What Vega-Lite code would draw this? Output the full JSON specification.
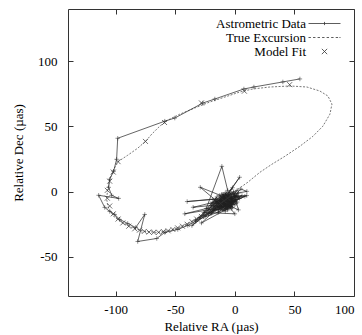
{
  "$schema": "https://vega.github.io/schema/vega-lite/v6.json",
  "autosize": {"type": "none"},
  "width": 286,
  "height": 287,
  "padding": {"left": 68, "top": 9, "right": 8, "bottom": 39},
  "background": "white",
  "datasets": {
    "excursion": [
      {"x": 0, "y": 0.2}, {"x": 10.9, "y": 7.2}, {"x": 21.0, "y": 14.8}, {"x": 31.1, "y": 21.0}, {"x": 42.0, "y": 27.1},
      {"x": 54.6, "y": 34.8}, {"x": 65.5, "y": 42.4}, {"x": 73.9, "y": 50.2}, {"x": 79.8, "y": 59.4}, {"x": 81.5, "y": 67.1},
      {"x": 78.1, "y": 73.3}, {"x": 71.4, "y": 77.1}, {"x": 60.5, "y": 80.2}, {"x": 46.2, "y": 81.0}, {"x": 29.4, "y": 80.2},
      {"x": 15.1, "y": 78.7}, {"x": 4.2, "y": 76.4}, {"x": -8.4, "y": 72.5}, {"x": -21.0, "y": 68.7}, {"x": -33.6, "y": 64.1},
      {"x": -46.2, "y": 59.4}, {"x": -56.3, "y": 54.8}, {"x": -63.0, "y": 50.2}, {"x": -69.7, "y": 44.1}, {"x": -74.8, "y": 38.7},
      {"x": -81.5, "y": 33.3}, {"x": -89.9, "y": 27.9}, {"x": -97.5, "y": 23.3}, {"x": -101.7, "y": 17.1}, {"x": -105.0, "y": 9.5},
      {"x": -106.7, "y": 1.8}, {"x": -107.6, "y": -5.9}, {"x": -105.9, "y": -12.8}, {"x": -101.7, "y": -19.0}, {"x": -95.0, "y": -23.6},
      {"x": -86.6, "y": -27.4}, {"x": -75.6, "y": -30.5}, {"x": -64.7, "y": -31.3}, {"x": -54.6, "y": -29.8}, {"x": -44.5, "y": -26.7},
      {"x": -34.5, "y": -22.1}, {"x": -24.4, "y": -16.4}, {"x": -15.1, "y": -11.3}, {"x": -6.7, "y": -5.2}, {"x": 0, "y": 0.2}
    ],
    "astro": [
      {"x": 54.6, "y": 86.4}, {"x": 40.3, "y": 84.1}, {"x": 16.0, "y": 80.2}, {"x": 7.6, "y": 78.7}, {"x": -16.8, "y": 71.0},
      {"x": -26.9, "y": 67.9}, {"x": -50.4, "y": 56.4}, {"x": -58.8, "y": 54.0}, {"x": -98.3, "y": 40.9}, {"x": -99.2, "y": 24.8},
      {"x": -101.7, "y": 15.6}, {"x": -105.0, "y": 9.5}, {"x": -105.9, "y": 3.3}, {"x": -103.4, "y": -2.8}, {"x": -97.5, "y": -5.2},
      {"x": -114.3, "y": -2.8}, {"x": -109.2, "y": -12.1}, {"x": -105.0, "y": -15.2}, {"x": -100.8, "y": -17.5}, {"x": -96.6, "y": -21.3},
      {"x": -89.9, "y": -24.4}, {"x": -83.2, "y": -27.5}, {"x": -75.6, "y": -17.5}, {"x": -81.5, "y": -38.2}, {"x": -65.5, "y": -35.9},
      {"x": -58.8, "y": -31.3}, {"x": -47.9, "y": -29.0}, {"x": -39.5, "y": -25.9}, {"x": -32.8, "y": -22.8}, {"x": -26.9, "y": -18.2},
      {"x": -22, "y": -14}, {"x": -15, "y": -4}, {"x": -30, "y": -20}, {"x": -12, "y": -12}, {"x": -5, "y": -2},
      {"x": -18, "y": -10}, {"x": -8, "y": -15}, {"x": -2, "y": -6}, {"x": -25, "y": -19}, {"x": -10, "y": -5},
      {"x": -40, "y": -7.6}, {"x": -18.5, "y": -6}, {"x": -6, "y": -11}, {"x": 3, "y": -1}, {"x": -14, "y": -16},
      {"x": -9, "y": -2}, {"x": -20, "y": -9}, {"x": -4, "y": -9}, {"x": 0, "y": -4}, {"x": -11, "y": -10},
      {"x": -16, "y": -6}, {"x": -7, "y": -7}, {"x": -3, "y": -13}, {"x": -13, "y": -3}, {"x": 2, "y": -8},
      {"x": -29, "y": 3.3}, {"x": -9, "y": -12}, {"x": -19, "y": -15}, {"x": -5, "y": -5}, {"x": -1, "y": 0},
      {"x": -12, "y": -7}, {"x": -8, "y": -10}, {"x": 4, "y": -5}, {"x": -15, "y": -12}, {"x": -6, "y": 1},
      {"x": -10.9, "y": 19.4}, {"x": -24, "y": -13}, {"x": -10, "y": -14}, {"x": -2, "y": -10}, {"x": -7, "y": -4},
      {"x": -17, "y": -8}, {"x": 1, "y": -3}, {"x": -11, "y": -6}, {"x": -4, "y": -12}, {"x": -28, "y": -24},
      {"x": -9, "y": -8}, {"x": -3, "y": -1}, {"x": -14, "y": -9}, {"x": -6, "y": -9}, {"x": 5, "y": 2},
      {"x": 10.1, "y": 0.2}, {"x": -8, "y": -3}, {"x": -20, "y": -17}, {"x": -1, "y": -7}, {"x": -12, "y": -13},
      {"x": -5, "y": -8}, {"x": -16, "y": -11}, {"x": -2, "y": 3}, {"x": -10, "y": -9}, {"x": -7, "y": -12},
      {"x": 6, "y": -3}, {"x": -13, "y": -6}, {"x": -4, "y": -4}, {"x": -22, "y": -17}, {"x": -8, "y": -6},
      {"x": -35, "y": -12}, {"x": -3, "y": -9}, {"x": -11, "y": -2}, {"x": 0, "y": -10}, {"x": -15, "y": -8},
      {"x": -6, "y": -6}, {"x": 8.4, "y": -3.6}, {"x": -9, "y": -11}, {"x": -1, "y": -4}, {"x": -18, "y": -12},
      {"x": -5, "y": -1}, {"x": 4, "y": 11}, {"x": -12, "y": -9}, {"x": -7, "y": -9}, {"x": 2, "y": 1},
      {"x": -14, "y": -14}, {"x": -4, "y": -7}, {"x": -10, "y": -4}, {"x": -33, "y": -22}, {"x": -6, "y": -13},
      {"x": 0, "y": -2}, {"x": -8, "y": -8}, {"x": 0, "y": -17}, {"x": -26, "y": -16}, {"x": -3, "y": -5},
      {"x": -13, "y": -11}, {"x": -5, "y": -10}, {"x": -9, "y": -5}, {"x": 10, "y": -3}, {"x": -11, "y": -12},
      {"x": -2, "y": -8}, {"x": -42, "y": -17}, {"x": -16, "y": -13}, {"x": -7, "y": -2}, {"x": -20, "y": -11},
      {"x": -4, "y": -11}, {"x": 3, "y": -14}, {"x": -1, "y": -1}, {"x": -9, "y": -9}, {"x": -6, "y": -4},
      {"x": -36, "y": -26}, {"x": -12, "y": -10}, {"x": -3, "y": -7}, {"x": -8, "y": -13}, {"x": -5, "y": -6},
      {"x": -7, "y": -10}, {"x": -3, "y": -4}, {"x": -10, "y": -7}, {"x": 1, "y": -6}, {"x": -6, "y": -14},
      {"x": -12, "y": -4}, {"x": -2, "y": -12}, {"x": -8, "y": -1}, {"x": -5, "y": -9}, {"x": -14, "y": -7},
      {"x": -1, "y": -9}, {"x": -9, "y": -13}, {"x": 3, "y": -4}, {"x": -7, "y": -5}, {"x": -11, "y": -9},
      {"x": -4, "y": -2}, {"x": -16, "y": -9}, {"x": -6, "y": -8}, {"x": 0, "y": -7}, {"x": -10, "y": -11},
      {"x": -3, "y": -11}, {"x": -13, "y": -8}, {"x": -8, "y": -4}, {"x": -5, "y": -12}, {"x": 2, "y": -3},
      {"x": -9, "y": -6}, {"x": -6, "y": -10}, {"x": -12, "y": -11}, {"x": -2, "y": -5}, {"x": -7, "y": -8},
      {"x": -17, "y": -13}, {"x": -4, "y": -6}, {"x": 1, "y": -9}, {"x": -10, "y": -2}, {"x": -8, "y": -11},
      {"x": -5, "y": -3}, {"x": -14, "y": -12}, {"x": -3, "y": -8}, {"x": -11, "y": -5}, {"x": -6, "y": -7}
    ],
    "fit": [
      {"x": 46, "y": 82, "s": "Model Fit"}, {"x": 8, "y": 77, "s": "Model Fit"}, {"x": -28, "y": 68, "s": "Model Fit"},
      {"x": -59, "y": 53, "s": "Model Fit"}, {"x": -75, "y": 38.5, "s": "Model Fit"}, {"x": -98, "y": 23, "s": "Model Fit"},
      {"x": -102, "y": 15, "s": "Model Fit"}, {"x": -105, "y": 8, "s": "Model Fit"}, {"x": -107, "y": 1, "s": "Model Fit"},
      {"x": -107, "y": -5, "s": "Model Fit"}, {"x": -105, "y": -11, "s": "Model Fit"}, {"x": -102, "y": -17, "s": "Model Fit"},
      {"x": -98, "y": -21, "s": "Model Fit"}, {"x": -94, "y": -24, "s": "Model Fit"}, {"x": -89, "y": -26.5, "s": "Model Fit"},
      {"x": -84, "y": -28.5, "s": "Model Fit"}, {"x": -80, "y": -29.5, "s": "Model Fit"}, {"x": -76, "y": -30.5, "s": "Model Fit"},
      {"x": -72, "y": -31, "s": "Model Fit"}, {"x": -68, "y": -31.2, "s": "Model Fit"}, {"x": -64, "y": -31.2, "s": "Model Fit"},
      {"x": -60, "y": -30.6, "s": "Model Fit"}, {"x": -56, "y": -30, "s": "Model Fit"}, {"x": -52, "y": -29, "s": "Model Fit"},
      {"x": -48, "y": -27.8, "s": "Model Fit"}, {"x": -44, "y": -26.5, "s": "Model Fit"}, {"x": -40, "y": -25, "s": "Model Fit"},
      {"x": -36, "y": -23, "s": "Model Fit"}, {"x": -32, "y": -21, "s": "Model Fit"}, {"x": -28, "y": -19, "s": "Model Fit"},
      {"x": -24, "y": -16.5, "s": "Model Fit"}, {"x": -20, "y": -14, "s": "Model Fit"}, {"x": -16, "y": -11.5, "s": "Model Fit"},
      {"x": -12, "y": -9, "s": "Model Fit"}, {"x": -9, "y": -7, "s": "Model Fit"}, {"x": -6, "y": -5, "s": "Model Fit"},
      {"x": -3, "y": -3, "s": "Model Fit"}
    ]
  },
  "resolve": {"axis": {"x": "independent", "y": "independent"}},
  "layer": [
    {
      "data": {"name": "excursion"},
      "mark": {"type": "line", "color": "#555", "strokeWidth": 0.8, "strokeDash": [2, 1.5]},
      "encoding": {
        "x": {"field": "x", "type": "quantitative", "scale": {"domain": [-140, 100], "nice": false, "zero": false},
              "axis": {"orient": "bottom", "values": [-100, -50, 0, 50, 100], "labelExpr": "datum.value + ''", "title": "Relative RA (µas)", "labelPadding": 12.5, "titlePadding": 4}},
        "y": {"field": "y", "type": "quantitative", "scale": {"domain": [-80, 140], "nice": false, "zero": false},
              "axis": {"orient": "left", "values": [-50, 0, 50, 100], "labelExpr": "datum.value + ''", "title": "Relative Dec (µas)", "labelPadding": 16, "titlePadding": 12}},
        "order": {"value": null}
      }
    },
    {
      "data": {"name": "astro"},
      "mark": {"type": "line", "color": "#222", "strokeWidth": 0.7},
      "encoding": {
        "x": {"field": "x", "type": "quantitative", "scale": {"domain": [-140, 100], "nice": false, "zero": false},
              "axis": {"orient": "top", "values": [-100, -50, 0, 50, 100], "labels": false, "title": null}},
        "y": {"field": "y", "type": "quantitative", "scale": {"domain": [-80, 140], "nice": false, "zero": false},
              "axis": {"orient": "right", "values": [-50, 0, 50, 100], "labels": false, "title": null}},
        "order": {"value": null}
      }
    },
    {
      "data": {"name": "astro"},
      "mark": {"type": "point", "shape": "M-1,0L1,0M0,-1L0,1", "size": 20, "filled": false, "color": "#222", "strokeWidth": 0.7},
      "encoding": {
        "x": {"field": "x", "type": "quantitative", "scale": {"domain": [-140, 100], "nice": false, "zero": false}, "axis": null},
        "y": {"field": "y", "type": "quantitative", "scale": {"domain": [-80, 140], "nice": false, "zero": false}, "axis": null}
      }
    },
    {
      "data": {"name": "fit"},
      "mark": {"type": "point", "size": 25, "filled": false, "color": "#333", "strokeWidth": 0.7, "opacity": 1},
      "encoding": {
        "x": {"field": "x", "type": "quantitative", "scale": {"domain": [-140, 100], "nice": false, "zero": false}, "axis": null},
        "y": {"field": "y", "type": "quantitative", "scale": {"domain": [-80, 140], "nice": false, "zero": false}, "axis": null},
        "shape": {"field": "s", "type": "nominal",
          "scale": {"domain": ["Astrometric Data", "True Excursion", "Model Fit"],
                    "range": ["M-6,0L6,0M0,-0.6L0,0.6", "M-6,0L-5.1,0M-4.3,0L-3.4,0M-2.6,0L-1.7,0M-0.9,0L0,0M0.8,0L1.7,0M2.5,0L3.4,0M4.2,0L5.1,0M5.6,0L6,0", "M-1,-1L1,1M-1,1L1,-1"]},
          "legend": {"title": null, "orient": "none", "legendX": 250, "legendY": 8, "symbolSize": 28.4, "symbolStrokeColor": "#333", "symbolFillColor": "transparent", "symbolStrokeWidth": 0.8, "symbolOpacity": 1, "labelAlign": "right", "labelOffset": -25, "labelFont": "Liberation Serif", "labelFontSize": 13, "labelColor": "#000", "rowPadding": -1, "labelLimit": 200}}
      }
    }
  ],
  "config": {
    "font": "Liberation Serif",
    "view": {"stroke": "#333", "strokeWidth": 1},
    "axis": {"domain": false, "grid": false, "ticks": true, "tickSize": -5, "tickColor": "#333", "tickWidth": 1,
             "labelFont": "Liberation Serif", "labelFontSize": 13, "labelColor": "#000",
             "titleFont": "Liberation Serif", "titleFontSize": 13, "titleFontWeight": "normal", "titleColor": "#000"}
  }
}
